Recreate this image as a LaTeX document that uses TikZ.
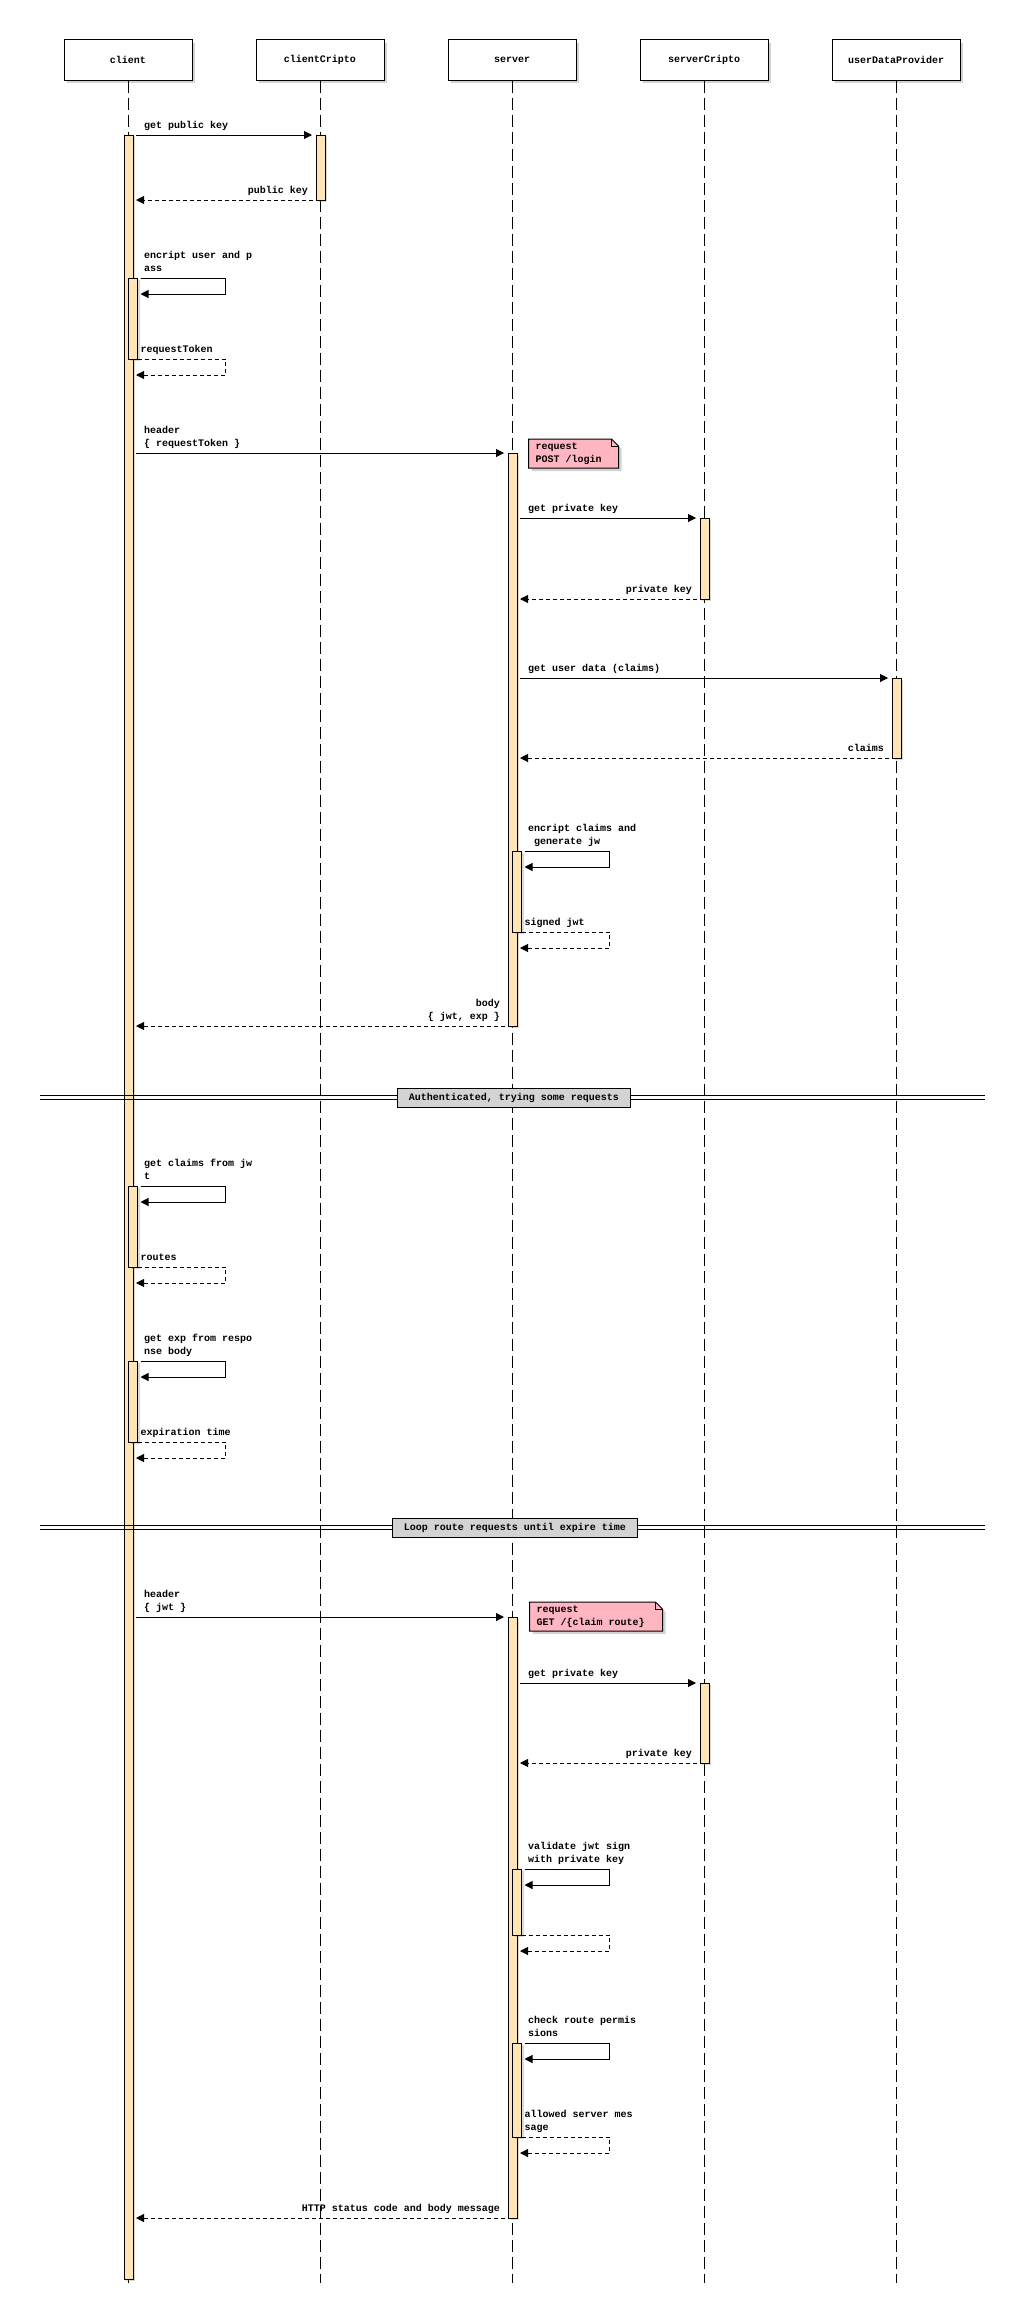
\documentclass[tikz,border=0pt]{standalone}
\usepackage{fontspec}
\setmonofont{Liberation Mono}
\usepackage{tikz}
\usetikzlibrary{shapes,arrows.meta,positioning,calc,shadows}
\definecolor{actfill}{HTML}{FFE4B5}
\definecolor{notefill}{HTML}{FFB6C1}
\definecolor{dividerfill}{HTML}{D3D3D3}
\newcommand{\seqfont}{\ttfamily\bfseries\fontsize{10}{13}\selectfont}
\pgfdeclarelayer{bg}
\pgfsetlayers{bg,main}
\tikzstyle{actor} = [rectangle, draw, fill=white, line width=1pt, minimum width=128pt, minimum height=40pt, font=\seqfont, drop shadow={shadow xshift=3pt, shadow yshift=-3pt, opacity=.35}]
\tikzstyle{lifeline} = [line width=1pt, dash pattern=on 12pt off 5pt]
\tikzstyle{act} = [rectangle, draw, fill=actfill, line width=1pt, minimum width=9pt, inner sep=0pt, outer sep=0pt, anchor=north, drop shadow={shadow xshift=2pt, shadow yshift=-2pt, opacity=.3}]
\tikzstyle{call} = [line width=1pt, -{Triangle[length=8pt,width=8pt]}]
\tikzstyle{ret} = [call, dash pattern=on 4pt off 3pt]
\tikzstyle{lbl} = [font=\seqfont, inner sep=0pt, align=left]
\tikzstyle{note} = [font=\seqfont, align=left, execute at begin node={\spaceskip=0pt\xspaceskip=0pt\relax}, inner xsep=7pt, inner ysep=0pt, outer sep=0pt, minimum height=29pt]
\tikzstyle{noteframe} = [fill=notefill, draw, line width=1pt, drop shadow={shadow xshift=3pt, shadow yshift=-3pt, opacity=.35}]
\tikzstyle{divider} = [rectangle, draw, fill=dividerfill, line width=1pt, font=\seqfont, inner xsep=11pt, inner ysep=0pt, minimum height=19pt]

\begin{document}
\begin{tikzpicture}[x=1pt, y=-1pt, node distance=192pt]
   \useasboundingbox (0,0) rectangle (1024,2307);
   % participants
   \node[actor] (client) at (128,60) {client};
   \node[actor] (clientCripto) [right of=client] {clientCripto};
   \node[actor] (server) [right of=clientCripto] {server};
   \node[actor] (serverCripto) [right of=server] {serverCripto};
   \node[actor] (userDataProvider) [right of=serverCripto] {userDataProvider};
   \coordinate (bottom) at (0,2283);
   \draw[lifeline] (client.south) -- (client.south |- bottom);
   \draw[lifeline] (clientCripto.south) -- (clientCripto.south |- bottom);
   \draw[lifeline] (server.south) -- (server.south |- bottom);
   \draw[lifeline] (serverCripto.south) -- (serverCripto.south |- bottom);
   \draw[lifeline] (userDataProvider.south) -- (userDataProvider.south |- bottom);
   % activations
   \node[act, minimum height=2144pt] (aC) at (128.5,135) {};
   \node[act, minimum height=65pt] (aCC) at (320.5,135) {};
   \node[act, minimum height=81pt] (aC2) at (133,278) {};
   \node[act, minimum height=573pt] (aS1) at (512.5,453) {};
   \node[act, minimum height=81pt] (aSC1) at (704.5,518) {};
   \node[act, minimum height=80pt] (aU) at (896.5,678) {};
   \node[act, minimum height=81pt] (aS2) at (517,851) {};
   \node[act, minimum height=81pt] (aC3) at (133,1186) {};
   \node[act, minimum height=81pt] (aC4) at (133,1361) {};
   \node[act, minimum height=601pt] (aS3) at (512.5,1617) {};
   \node[act, minimum height=80pt] (aSC2) at (704.5,1683) {};
   \node[act, minimum height=66pt] (aS4) at (517,1869) {};
   \node[act, minimum height=94pt] (aS5) at (517,2043) {};
   % public key
   \draw[call, shorten <=3pt, shorten >=4pt] (aC.east |- aCC.north) -- (aCC.north west);
   \node[lbl, anchor=base west] (m1) at ($(aC.east |- aCC.north)+(11,-7)$) {get public key};
   \draw[ret, shorten <=3pt, shorten >=3pt] (aCC.south west) -- (aCC.south west -| aC.east);
   \node[lbl, anchor=base east] (m2) at ($(aCC.south west)+(-8,-7)$) {public key};
   \draw[call] ($(aC2.north east)+(3,0)$) -- ++(85,0) |- ($(aC2.north east)+(3,16)$);
   \node[lbl, anchor=base west] (m3) at ($(aC.east |- aC2.north)+(11,-7)$) {encript user and p\\ass};
   \draw[ret] (aC2.south east) -- ++(88,0) |- ($(aC2.south -| aC.east)+(3,16)$);
   \node[lbl, anchor=base west] (m4) at ($(aC2.south east)+(3,-7)$) {requestToken};
   % login
   \draw[call, shorten <=3pt, shorten >=4pt] (aC.east |- aS1.north) -- (aS1.north west);
   \node[lbl, anchor=base west] (m5) at ($(aC.east |- aS1.north)+(11,-7)$) {header\\\{ requestToken \}};
   \node[note, text width=76pt, anchor=north west] (n1) at ($(aS1.north)+(16,-14)$) {request\\POST /login};
   \begin{pgfonlayer}{bg}
   \draw[noteframe] (n1.north west) -- ($(n1.north east)+(-7,0)$) -- ($(n1.north east)+(0,7)$) -- (n1.south east) -- (n1.south west) -- cycle;
   \draw[line width=1pt] ($(n1.north east)+(-7,0)$) |- ($(n1.north east)+(0,7)$);
   \end{pgfonlayer}
   \draw[call, shorten <=3pt, shorten >=4pt] (aS1.east |- aSC1.north) -- (aSC1.north west);
   \node[lbl, anchor=base west] (m6) at ($(aS1.east |- aSC1.north)+(11,-7)$) {get private key};
   \draw[ret, shorten <=3pt, shorten >=3pt] (aSC1.south west) -- (aSC1.south west -| aS1.east);
   \node[lbl, anchor=base east] (m7) at ($(aSC1.south west)+(-8,-7)$) {private key};
   \draw[call, shorten <=3pt, shorten >=4pt] (aS1.east |- aU.north) -- (aU.north west);
   \node[lbl, anchor=base west] (m8) at ($(aS1.east |- aU.north)+(11,-7)$) {get user data (claims)};
   \draw[ret, shorten <=3pt, shorten >=3pt] (aU.south west) -- (aU.south west -| aS1.east);
   \node[lbl, anchor=base east] (m9) at ($(aU.south west)+(-8,-7)$) {claims};
   \draw[call] ($(aS2.north east)+(3,0)$) -- ++(85,0) |- ($(aS2.north east)+(3,16)$);
   \node[lbl, anchor=base west] (m10) at ($(aS1.east |- aS2.north)+(11,-7)$) {encript claims and\\~generate jw};
   \draw[ret] (aS2.south east) -- ++(88,0) |- ($(aS2.south -| aS1.east)+(3,16)$);
   \node[lbl, anchor=base west] (m11) at ($(aS2.south east)+(3,-7)$) {signed jwt};
   \draw[ret, shorten <=3pt, shorten >=3pt] (aS1.south west) -- (aS1.south west -| aC.east);
   \node[lbl, anchor=base east, align=right] (m12) at ($(aS1.south west)+(-8,-7)$) {body\\\{ jwt, exp \}};
   % authenticated
   \draw[line width=1pt] (40,1095.5) -- (985,1095.5) (40,1099.5) -- (985,1099.5);
   \node[divider] (auth) at (514,1097.5) {Authenticated, trying some requests};
   \draw[call] ($(aC3.north east)+(3,0)$) -- ++(85,0) |- ($(aC3.north east)+(3,16)$);
   \node[lbl, anchor=base west] (m13) at ($(aC.east |- aC3.north)+(11,-7)$) {get claims from jw\\t};
   \draw[ret] (aC3.south east) -- ++(88,0) |- ($(aC3.south -| aC.east)+(3,16)$);
   \node[lbl, anchor=base west] (m14) at ($(aC3.south east)+(3,-7)$) {routes};
   \draw[call] ($(aC4.north east)+(3,0)$) -- ++(85,0) |- ($(aC4.north east)+(3,16)$);
   \node[lbl, anchor=base west] (m15) at ($(aC.east |- aC4.north)+(11,-7)$) {get exp from respo\\nse body};
   \draw[ret] (aC4.south east) -- ++(88,0) |- ($(aC4.south -| aC.east)+(3,16)$);
   \node[lbl, anchor=base west] (m16) at ($(aC4.south east)+(3,-7)$) {expiration time};
   % loop
   \draw[line width=1pt] (40,1525.5) -- (985,1525.5) (40,1529.5) -- (985,1529.5);
   \node[divider] (loop) at (515,1527.5) {Loop route requests until expire time};
   \draw[call, shorten <=3pt, shorten >=4pt] (aC.east |- aS3.north) -- (aS3.north west);
   \node[lbl, anchor=base west] (m17) at ($(aC.east |- aS3.north)+(11,-7)$) {header\\\{ jwt \}};
   \node[note, text width=119pt, anchor=north west] (n2) at ($(aS3.north)+(17,-15)$) {request\\GET /\{claim route\}};
   \begin{pgfonlayer}{bg}
   \draw[noteframe] (n2.north west) -- ($(n2.north east)+(-7,0)$) -- ($(n2.north east)+(0,7)$) -- (n2.south east) -- (n2.south west) -- cycle;
   \draw[line width=1pt] ($(n2.north east)+(-7,0)$) |- ($(n2.north east)+(0,7)$);
   \end{pgfonlayer}
   \draw[call, shorten <=3pt, shorten >=4pt] (aS3.east |- aSC2.north) -- (aSC2.north west);
   \node[lbl, anchor=base west] (m18) at ($(aS3.east |- aSC2.north)+(11,-7)$) {get private key};
   \draw[ret, shorten <=3pt, shorten >=3pt] (aSC2.south west) -- (aSC2.south west -| aS3.east);
   \node[lbl, anchor=base east] (m19) at ($(aSC2.south west)+(-8,-7)$) {private key};
   \draw[call] ($(aS4.north east)+(3,0)$) -- ++(85,0) |- ($(aS4.north east)+(3,16)$);
   \node[lbl, anchor=base west] (m20) at ($(aS3.east |- aS4.north)+(11,-7)$) {validate jwt sign\\with private key};
   \draw[ret] (aS4.south east) -- ++(88,0) |- ($(aS4.south -| aS3.east)+(3,16)$);
   \draw[call] ($(aS5.north east)+(3,0)$) -- ++(85,0) |- ($(aS5.north east)+(3,16)$);
   \node[lbl, anchor=base west] (m21) at ($(aS3.east |- aS5.north)+(11,-7)$) {check route permis\\sions};
   \draw[ret] (aS5.south east) -- ++(88,0) |- ($(aS5.south -| aS3.east)+(3,16)$);
   \node[lbl, anchor=base west] (m22) at ($(aS5.south east)+(3,-7)$) {allowed server mes\\sage};
   \draw[ret, shorten <=3pt, shorten >=3pt] (aS3.south west) -- (aS3.south west -| aC.east);
   \node[lbl, anchor=base east] (m23) at ($(aS3.south west)+(-8,-7)$) {HTTP status code and body message};
\end{tikzpicture}
\end{document}
